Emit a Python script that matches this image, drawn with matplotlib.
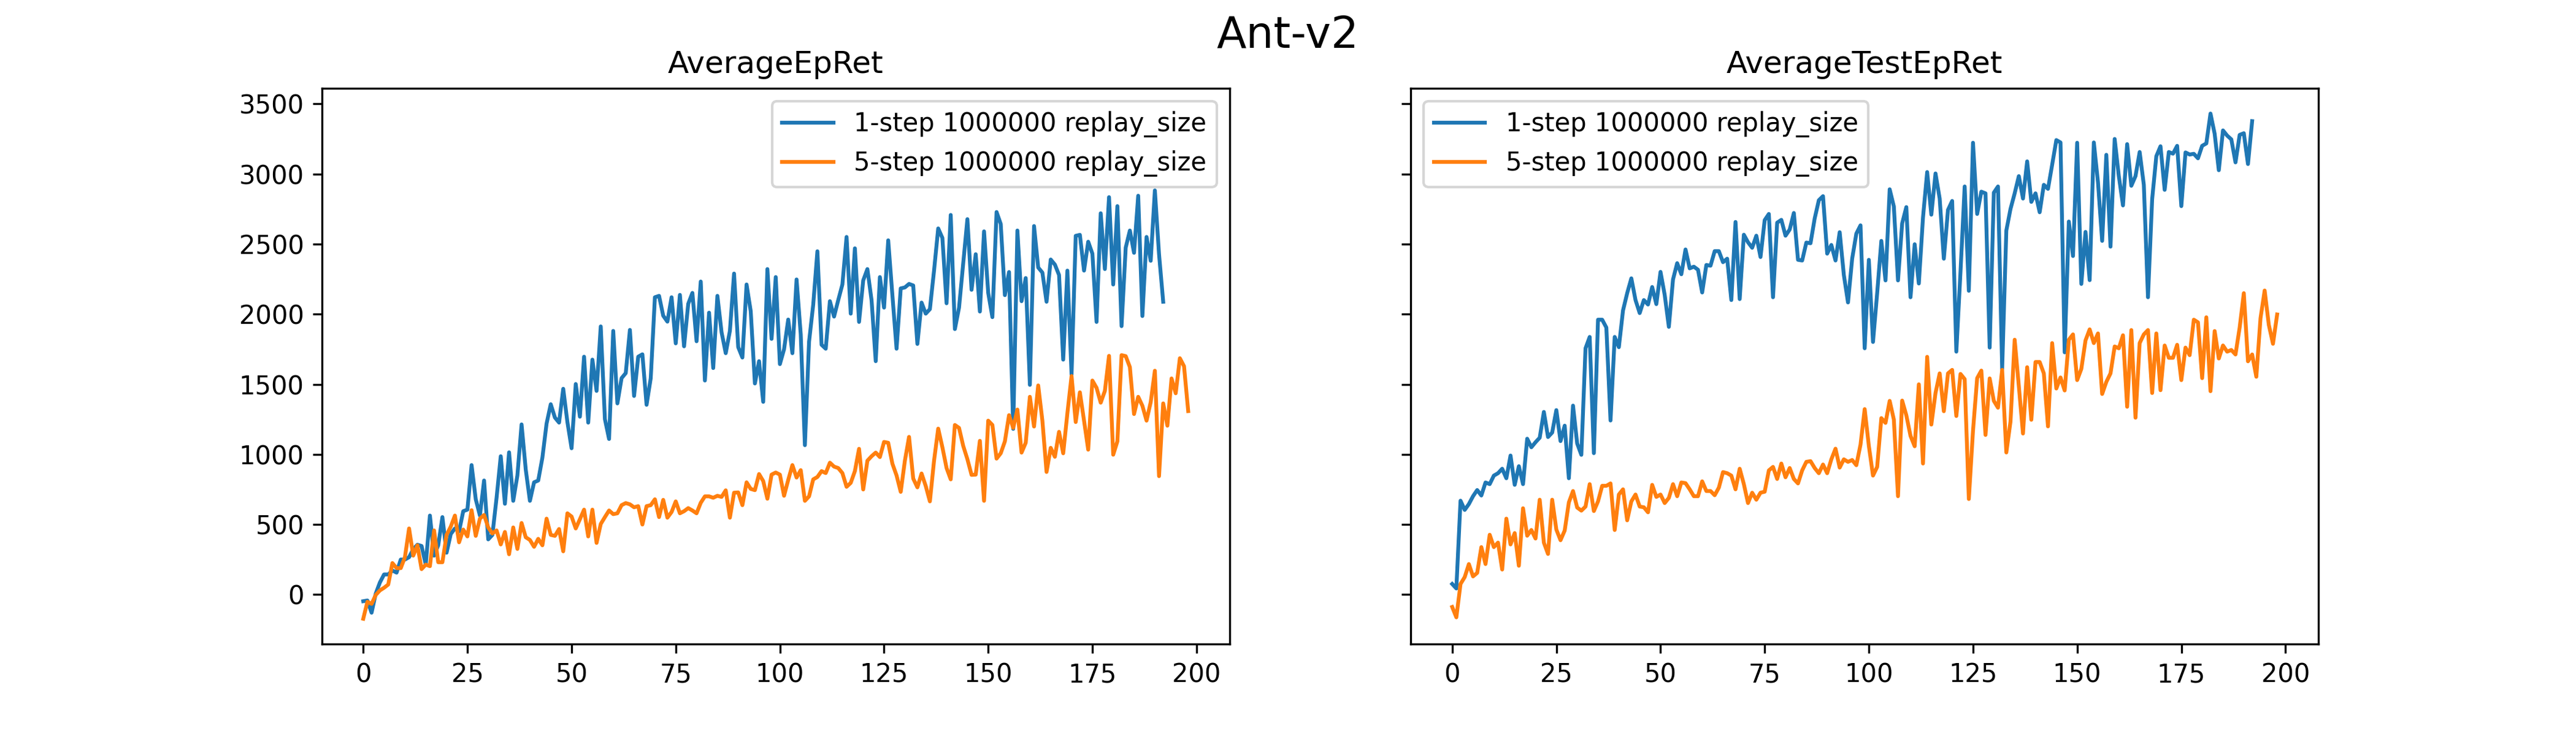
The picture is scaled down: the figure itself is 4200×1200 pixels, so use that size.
import numpy as np
import matplotlib
matplotlib.use("Agg")
import matplotlib.pyplot as plt

suptitle = "Ant-v2"
panel_titles = ["AverageEpRet", "AverageTestEpRet"]
series_labels = ["1-step 1000000 replay_size", "5-step 1000000 replay_size"]

ep_ret_1step = [
    -47, -42, -129, 8, 87, 144, 144, 172, 157, 250,
    250, 267, 324, 356, 347, 214, 564, 278, 352, 553,
    299, 432, 472, 451, 595, 606, 924, 680, 564, 814,
    394, 426, 691, 987, 648, 1015, 669, 850, 1214, 892,
    669, 801, 814, 977, 1220, 1358, 1263, 1227, 1468, 1231,
    1044, 1502, 1269, 1697, 1227, 1676, 1453, 1913, 1252, 1110,
    1881, 1364, 1544, 1580, 1888, 1417, 1697, 1714, 1354, 1544,
    2121, 2131, 1989, 1947, 2121, 1792, 2138, 1771, 2074, 2152,
    1807, 2233, 1527, 2011, 1616, 2131, 1871, 1722, 1881, 2290,
    1765, 1691, 2212, 2021, 1506, 1665, 1375, 2322, 1824, 2265,
    1644, 1750, 1962, 1722, 2248, 1856, 1066, 1803, 2068, 2449,
    1782, 1754, 2093, 1983, 2100, 2212, 2551, 2004, 2470, 1945,
    2241, 2322, 2100, 1665, 2265, 2047, 2527, 2136, 1754, 2184,
    2191, 2216, 2205, 1788, 2083, 2004, 2036, 2311, 2612, 2544,
    2078, 2708, 1894, 2047, 2364, 2678, 2174, 2428, 2019, 2591,
    2152, 1979, 2729, 2644, 2136, 2301, 1182, 2597, 2093, 2258,
    1496, 2629, 2333, 2297, 2089, 2390, 2354, 2280, 1676, 2311,
    1570, 2559, 2566, 2311, 2517, 2432, 1945, 2720, 2322, 2835,
    2212, 2771, 1915, 2475, 2597, 2438, 2845, 1987, 2551, 2381,
    2883, 2428, 2089,
]

ep_ret_5step = [
    -172, -51, -66, -2, 30, 49, 72, 225, 189, 189,
    267, 472, 278, 352, 182, 214, 203, 458, 231, 231,
    426, 485, 564, 373, 464, 415, 602, 419, 542, 568,
    479, 436, 458, 358, 447, 288, 479, 326, 511, 409,
    390, 341, 398, 352, 542, 426, 419, 468, 309, 580,
    557, 472, 538, 606, 415, 606, 369, 504, 553, 600,
    574, 580, 638, 653, 644, 623, 631, 500, 631, 638,
    680, 553, 676, 549, 589, 665, 580, 595, 617, 600,
    580, 655, 701, 701, 691, 705, 697, 744, 549, 727,
    729, 638, 801, 754, 745, 860, 810, 684, 856, 871,
    856, 705, 818, 924, 835, 888, 669, 701, 822, 839,
    881, 867, 941, 913, 903, 867, 769, 797, 881, 1040,
    750, 955, 987, 1013, 981, 1089, 1083, 934, 850, 733,
    955, 1125, 828, 765, 864, 775, 665, 955, 1184, 1051,
    903, 822, 1210, 1189, 1061, 966, 854, 856, 1097, 669,
    1241, 1210, 970, 1008, 1093, 1280, 1189, 1320, 1013, 1083,
    1411, 1199, 1492, 1241, 875, 1047, 983, 1161, 1008, 1294,
    1559, 1231, 1443, 1241, 1034, 1527, 1475, 1369, 1453, 1703,
    998, 1093, 1708, 1701, 1623, 1288, 1411, 1347, 1241, 1373,
    1597, 845, 1364, 1205, 1542, 1436, 1686, 1629, 1309,
]

test_ret_1step = [
    76, 44, 670, 604, 646, 702, 746, 707, 800, 788,
    849, 866, 898, 830, 992, 783, 916, 788, 1112, 1051,
    1087, 1119, 1303, 1124, 1156, 1316, 1095, 1205, 830, 1348,
    1078, 997, 1757, 1838, 1009, 1961, 1961, 1905, 1242, 1838,
    1765, 2027, 2150, 2256, 2101, 2008, 2101, 2069, 2194, 2072,
    2302, 2138, 1910, 2248, 2364, 2285, 2462, 2327, 2339, 2317,
    2155, 2351, 2346, 2450, 2450, 2371, 2396, 2101, 2658, 2108,
    2567, 2513, 2474, 2560, 2408, 2671, 2715, 2121, 2653, 2673,
    2560, 2604, 2722, 2388, 2383, 2511, 2506, 2683, 2813, 2842,
    2432, 2494, 2383, 2585, 2280, 2084, 2396, 2575, 2634, 1757,
    2388, 1802, 2150, 2523, 2241, 2891, 2769, 2241, 2648, 2764,
    2121, 2499, 2219, 2690, 3014, 2710, 3004, 2825, 2396, 2744,
    2808, 1733, 2305, 2911, 2167, 3223, 2715, 2874, 2862, 1762,
    2867, 2911, 1610, 2597, 2751, 2862, 2985, 2825, 3090, 2801,
    2862, 2727, 2923, 2894, 3066, 3242, 3225, 1728, 2661, 2415,
    3223, 2216, 2587, 2243, 3225, 2941, 2523, 3137, 2482, 3250,
    2985, 2776, 3213, 2916, 2985, 3157, 2923, 2121, 2820, 3127,
    3198, 2887, 3157, 3145, 3201, 2771, 3154, 3139, 3144, 3112,
    3201, 3218, 3431, 3287, 3027, 3311, 3274, 3247, 3083, 3279,
    3291, 3071, 3377,
]

test_ret_5step = [
    -88, -162, 76, 125, 218, 130, 155, 339, 218, 427,
    339, 371, 179, 542, 358, 439, 206, 616, 420, 461,
    400, 677, 371, 290, 677, 464, 388, 457, 658, 739,
    621, 599, 628, 788, 596, 665, 776, 776, 793, 461,
    714, 751, 530, 665, 714, 628, 623, 587, 783, 697,
    714, 653, 690, 788, 702, 800, 795, 751, 702, 702,
    808, 739, 739, 709, 763, 874, 866, 849, 751, 898,
    788, 653, 727, 677, 727, 734, 886, 911, 825, 935,
    837, 903, 825, 793, 886, 947, 952, 903, 866, 928,
    866, 965, 1041, 906, 965, 947, 960, 923, 1070, 1323,
    1061, 849, 911, 1259, 1225, 1382, 1249, 702, 1384, 1279,
    1132, 1058, 1500, 935, 1696, 1213, 1438, 1578, 1308, 1578,
    1603, 1274, 1574, 1537, 682, 1168, 1544, 1598, 1139, 1542,
    1382, 1333, 1603, 1014, 1235, 1818, 1487, 1149, 1622, 1247,
    1659, 1659, 1578, 1200, 1794, 1470, 1549, 1456, 1818, 1856,
    1530, 1610, 1813, 1892, 1794, 1863, 1431, 1517, 1578, 1770,
    1757, 1850, 1340, 1887, 1262, 1794, 1856, 1887, 1438, 1863,
    1458, 1777, 1689, 1689, 1782, 1530, 1762, 1708, 1961, 1942,
    1544, 1978, 1451, 1880, 1684, 1777, 1733, 1745, 1713, 1905,
    2150, 1664, 1713, 1554, 1971, 2169, 1924, 1789, 1998,
]

fig, axes = plt.subplots(1, 2, figsize=(14, 4), sharey=True)
fig.subplots_adjust(left=0.125, right=0.9, bottom=0.125, top=0.88, wspace=0.2)

panels = [
    (axes[0], panel_titles[0], ep_ret_1step, ep_ret_5step, "upper right"),
    (axes[1], panel_titles[1], test_ret_1step, test_ret_5step, "upper left"),
]
for ax, title, s1, s5, loc in panels:
    ax.plot(np.arange(len(s1)), s1, color="#1f77b4", lw=1.5, label=series_labels[0])
    ax.plot(np.arange(len(s5)), s5, color="#ff7f0e", lw=1.5, label=series_labels[1])
    ax.set_title(title)
    ax.set_xticks([0, 25, 50, 75, 100, 125, 150, 175, 200])
    ax.legend(loc=loc)

axes[0].set_yticks([0, 500, 1000, 1500, 2000, 2500, 3000, 3500])
fig.suptitle(suptitle, fontsize=17)

fig.savefig("out.png", dpi=300)
